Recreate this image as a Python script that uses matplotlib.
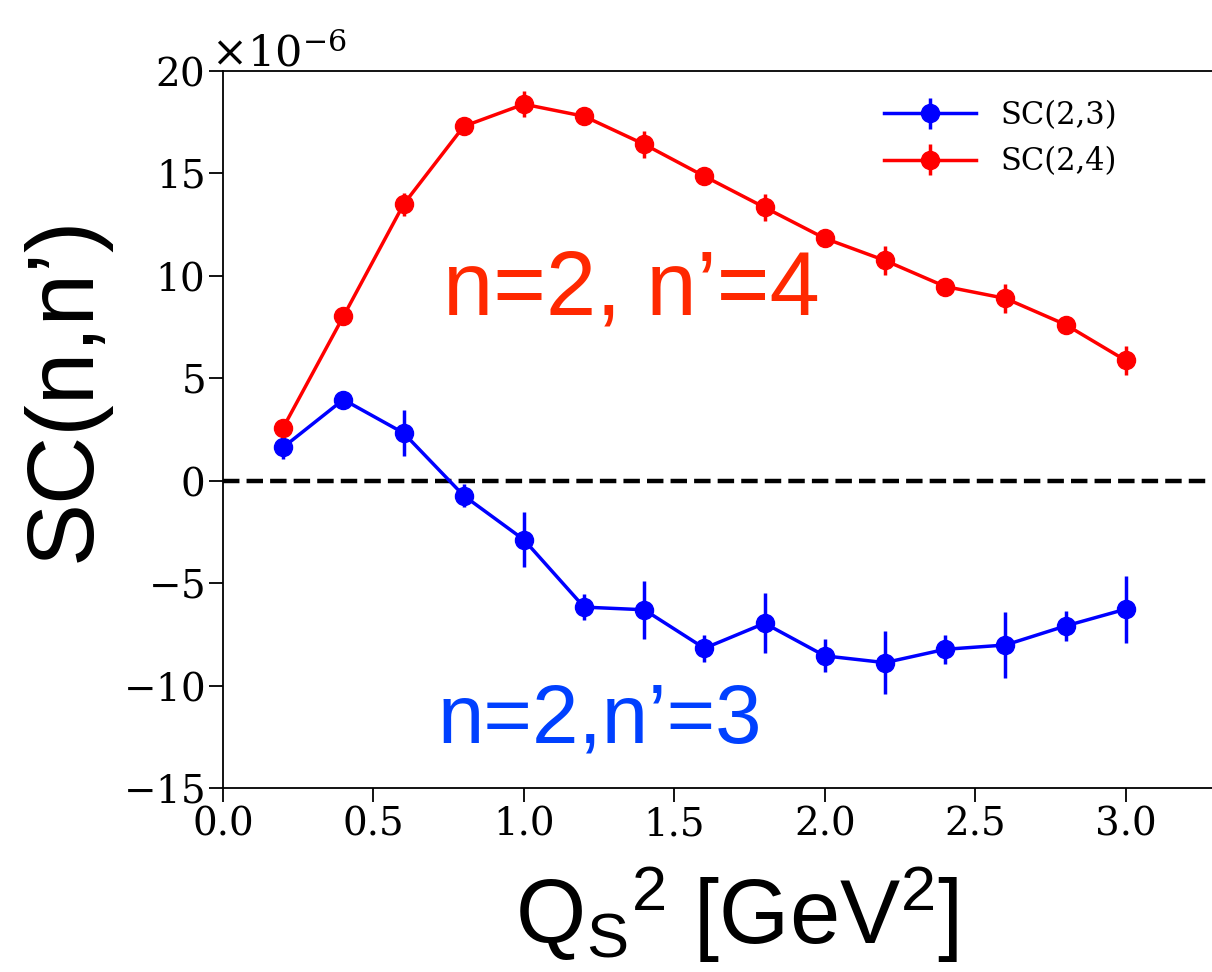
import numpy as np
import matplotlib
matplotlib.use("Agg")
import matplotlib.pyplot as plt
from matplotlib.ticker import ScalarFormatter

# data (values in units of 1e-6)
qs2 = [0.2, 0.4, 0.6, 0.8, 1.0, 1.2, 1.4, 1.6, 1.8, 2.0, 2.2, 2.4, 2.6, 2.8, 3.0]
sc23 = [1.63, 3.96, 2.33, -0.73, -2.88, -6.17, -6.30, -8.18, -6.96, -8.55, -8.88, -8.23, -8.02, -7.09, -6.27]
sc23_err = [0.57, 0.30, 1.14, 0.57, 1.34, 0.63, 1.42, 0.65, 1.47, 0.80, 1.52, 0.71, 1.60, 0.73, 1.63]
sc24 = [2.59, 8.02, 13.49, 17.30, 18.38, 17.79, 16.42, 14.86, 13.34, 11.83, 10.75, 9.48, 8.90, 7.62, 5.87]
sc24_err = [0.30, 0.30, 0.57, 0.30, 0.64, 0.30, 0.67, 0.30, 0.68, 0.30, 0.69, 0.30, 0.71, 0.30, 0.73]
scale = 1e-6

plt.rcParams['font.family'] = 'DejaVu Serif'
plt.rcParams['mathtext.fontset'] = 'dejavuserif'

fig = plt.figure(figsize=(12.12, 9.72), dpi=100)
ax = fig.add_axes([223 / 1212, 184 / 972, (1216 - 223) / 1212, (788 - 71) / 972])

x = np.array(qs2)
ax.errorbar(x, np.array(sc23) * scale, yerr=np.array(sc23_err) * scale,
            color='blue', marker='o', ms=13, lw=2.5, elinewidth=2.5, label='SC(2,3)')
ax.errorbar(x, np.array(sc24) * scale, yerr=np.array(sc24_err) * scale,
            color='red', marker='o', ms=13, lw=2.5, elinewidth=2.5, label='SC(2,4)')
ax.axhline(0, color='black', ls='--', lw=3.2)

ax.set_xlim(0, 3.3)
ax.set_ylim(-15e-6, 20e-6)
ax.set_xticks(np.arange(0, 3.01, 0.5))
ax.set_yticks(np.arange(-15, 21, 5) * scale)
fmt = ScalarFormatter(useMathText=True)
fmt.set_powerlimits((-6, -6))
ax.yaxis.set_major_formatter(fmt)
ax.tick_params(labelsize=28, length=10, width=1.3, direction='out')
ax.yaxis.get_offset_text().set_fontsize(31)
ax.yaxis.get_offset_text().set_x(-0.012)
for s in ax.spines.values():
    s.set_linewidth(1.3)

ax.legend(loc='upper left', bbox_to_anchor=(0.638, 0.998), frameon=False,
          fontsize=22, handlelength=3.0, labelspacing=0.5)

ax.text(0.731, 8.11 * scale, 'n=2, n\u2019=4', color='#ff2800', fontsize=65,
        family='Liberation Sans', ha='left', va='baseline')
ax.text(0.714, -12.8 * scale, 'n=2,n\u2019=3', color='#0040ff', fontsize=60,
        family='Liberation Sans', ha='left', va='baseline')

fig.text(65 / 1212, 1 - 389 / 972, 'SC(n,n\u2019)', rotation=90, fontsize=68,
         family='Liberation Sans', ha='center', va='center')
fig.text(737 / 1212, 1 - 915 / 972, r'Q$_\mathregular{S}$$^\mathregular{2}$ [GeV$^\mathregular{2}$]',
         fontsize=65, family='Liberation Sans', ha='center', va='center')

fig.savefig('out.png', dpi=100)
